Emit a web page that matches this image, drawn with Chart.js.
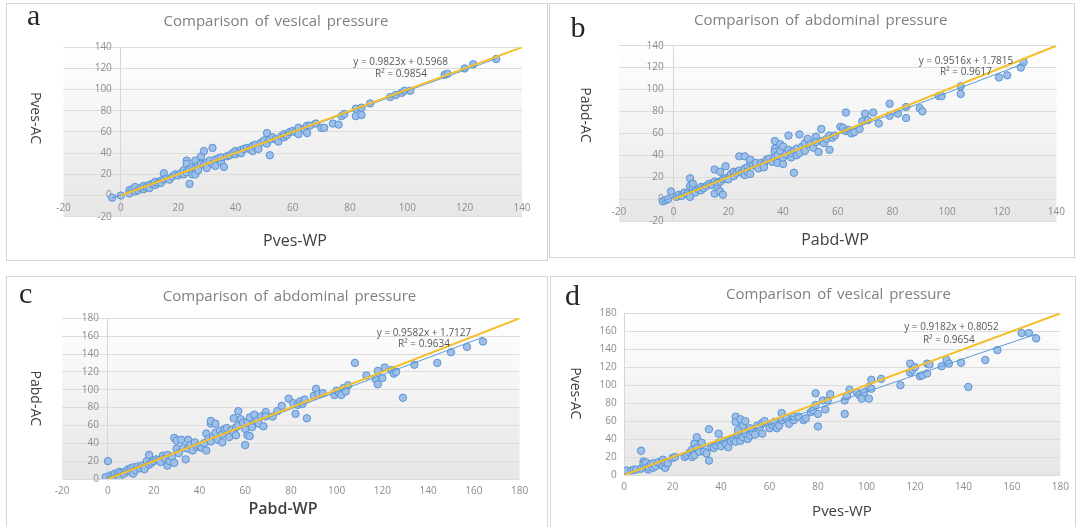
<!DOCTYPE html>
<html>
<head>
<meta charset="utf-8">
<script src="https://cdn.jsdelivr.net/npm/chart.js@4/dist/chart.umd.min.js"></script>
<style>
html,body{margin:0;padding:0;background:#fff;width:1077px;height:527px;overflow:hidden;}
.panel{position:absolute;border:1px solid #d6d6d6;background:#fff;box-sizing:content-box;}
.panel canvas{position:absolute;left:0;top:0;}
</style>
</head>
<body>
<div class="panel" style="left:6px;top:3px;width:540px;height:256px"><canvas id="ca"></canvas></div>
<div class="panel" style="left:549px;top:3px;width:524px;height:253px"><canvas id="cb"></canvas></div>
<div class="panel" style="left:6px;top:276px;width:540px;height:252px"><canvas id="cc"></canvas></div>
<div class="panel" style="left:550px;top:276px;width:524px;height:252px"><canvas id="cd"></canvas></div>
<script>
// ---------- DATA ----------
const letters = ['a', 'b', 'c', 'd'];
const titles = ['Comparison of vesical pressure', 'Comparison of abdominal pressure',
                'Comparison of abdominal pressure', 'Comparison of vesical pressure'];
const xTitles = ['Pves-WP', 'Pabd-WP', 'Pabd-WP', 'Pves-WP'];
const yTitles = ['Pves-AC', 'Pabd-AC', 'Pabd-AC', 'Pves-AC'];

const xTicksA = [-20, 0, 20, 40, 60, 80, 100, 120, 140];
const yTicksA = [-20, 0, 20, 40, 60, 80, 100, 120, 140];
const xTicksB = [-20, 0, 20, 40, 60, 80, 100, 120, 140];
const yTicksB = [-20, 0, 20, 40, 60, 80, 100, 120, 140];
const xTicksC = [-20, 0, 20, 40, 60, 80, 100, 120, 140, 160, 180];
const yTicksC = [0, 20, 40, 60, 80, 100, 120, 140, 160, 180];
const xTicksD = [0, 20, 40, 60, 80, 100, 120, 140, 160, 180];
const yTicksD = [0, 20, 40, 60, 80, 100, 120, 140, 160, 180];

// slope, intercept, R²
const fitA = [0.9823, 0.5968, 0.9854];
const fitB = [0.9516, 1.7815, 0.9617];
const fitC = [0.9582, 1.7127, 0.9634];
const fitD = [0.9182, 0.8052, 0.9654];

// [WP, AC]
const pointsA = [[-3,-2],[0,0],[3,5],[3,2],[4,6],[5,4],[5,8],[6,5],[7,7],[8,6],[8,9],[9,8],[10,10],[10,7],[11,11],[12,10],[12,13],[13,12],[14,14],[14,12],[15,21],[15,15],[16,16],[17,15],[18,18],[19,20],[20,19],[21,21],[22,20],[22,24],[23,33],[23,30],[23,22],[24,11],[24,25],[25,27],[25,20],[26,20],[26,33],[26,26],[27,28],[27,24],[28,30],[28,37],[29,42],[29,29],[30,31],[30,26],[31,33],[32,45],[32,30],[33,34],[33,28],[34,35],[35,32],[35,36],[36,27],[37,37],[38,38],[39,40],[40,39],[40,42],[41,41],[42,43],[42,40],[43,44],[44,45],[45,44],[46,47],[46,42],[47,46],[47,48],[48,44],[49,50],[50,52],[51,59],[51,49],[52,38],[52,53],[53,55],[54,53],[55,51],[56,56],[57,55],[57,58],[58,57],[59,60],[60,61],[61,60],[62,64],[62,58],[64,63],[65,59],[65,66],[66,66],[68,68],[70,64],[71,64],[74,68],[76,67],[77,75],[78,77],[82,82],[82,75],[84,83],[84,76],[87,87],[94,93],[96,95],[98,97],[99,99],[101,99],[113,114],[114,115],[120,120],[123,124],[131,129]];

const pointsB = [[-4,-2],[-3,-1],[-2,0],[-1,7],[1,2],[2,3],[2,4],[3,3],[4,6],[5,5],[6,19],[6,2],[6,12],[7,10],[7,14],[8,8],[8,6],[9,9],[10,8],[10,11],[11,10],[12,12],[13,14],[14,13],[15,27],[15,5],[15,16],[16,11],[16,15],[17,7],[17,16],[17,25],[18,4],[18,18],[19,30],[19,19],[20,20],[20,18],[21,23],[22,21],[22,25],[23,24],[24,39],[24,26],[25,24],[26,39],[26,22],[26,28],[27,29],[27,25],[28,23],[28,33],[28,36],[29,31],[30,30],[30,33],[31,28],[32,33],[33,32],[33,29],[34,36],[35,37],[36,34],[37,53],[37,46],[37,43],[37,38],[38,33],[38,40],[39,50],[39,44],[40,32],[40,48],[40,38],[41,41],[42,58],[42,45],[43,38],[43,42],[44,24],[44,44],[45,40],[45,46],[46,59],[46,42],[47,48],[48,44],[48,51],[49,55],[50,50],[51,47],[52,57],[52,52],[53,43],[54,64],[54,53],[55,51],[56,55],[57,45],[57,58],[58,56],[59,58],[61,66],[62,65],[63,79],[63,62],[64,63],[65,60],[66,61],[68,64],[69,71],[70,78],[71,72],[73,79],[75,69],[79,87],[79,76],[82,78],[85,84],[85,74],[90,83],[91,80],[97,94],[98,94],[105,103],[105,96],[119,111],[122,113],[127,120],[128,125]];

const pointsC = [[-1,2],[0,20],[1,4],[2,3],[3,6],[4,5],[5,2],[5,8],[6,7],[7,6],[8,9],[9,11],[10,8],[10,12],[11,6],[11,13],[12,10],[13,14],[14,12],[15,15],[16,11],[17,20],[18,27],[18,16],[19,18],[20,20],[21,22],[22,21],[23,19],[24,26],[25,23],[26,15],[26,27],[27,20],[28,25],[29,18],[29,46],[30,43],[30,34],[31,29],[32,44],[33,35],[34,22],[35,44],[35,34],[36,38],[37,32],[38,41],[39,36],[40,37],[41,35],[42,40],[43,32],[43,51],[44,45],[45,62],[45,65],[45,42],[46,48],[47,62],[47,52],[48,44],[49,54],[50,50],[50,41],[51,56],[52,57],[53,47],[54,55],[55,68],[55,52],[56,58],[56,49],[57,76],[57,60],[58,67],[59,63],[60,38],[60,56],[61,49],[61,64],[62,48],[62,69],[63,60],[63,58],[64,72],[65,65],[66,62],[67,70],[68,59],[69,75],[69,70],[72,70],[74,76],[76,82],[79,90],[81,85],[82,73],[83,83],[84,87],[85,84],[86,89],[87,68],[90,93],[91,101],[92,95],[94,96],[99,94],[100,99],[101,97],[102,94],[103,102],[104,98],[105,105],[108,130],[113,116],[117,112],[118,121],[118,106],[120,113],[121,125],[124,122],[125,118],[126,120],[129,91],[134,128],[144,130],[150,142],[157,148],[164,154]];

const pointsD = [[1,5],[3,5],[4,6],[5,6],[7,27],[7,7],[8,15],[8,12],[9,10],[9,14],[10,6],[10,9],[11,12],[12,8],[12,13],[13,10],[14,14],[15,12],[16,17],[16,10],[17,8],[17,14],[18,13],[20,19],[21,20],[25,20],[26,22],[27,25],[28,20],[28,28],[29,35],[29,22],[30,42],[30,30],[31,26],[32,36],[33,26],[34,24],[35,51],[35,16],[36,31],[37,30],[38,33],[39,46],[39,36],[40,32],[41,38],[42,34],[43,31],[44,38],[45,40],[46,65],[46,59],[46,37],[47,45],[47,50],[48,62],[48,38],[49,55],[49,42],[50,60],[50,46],[51,40],[52,52],[52,44],[53,48],[54,45],[55,55],[56,53],[57,46],[57,58],[58,60],[60,52],[61,56],[62,59],[63,52],[64,55],[65,69],[65,61],[67,63],[68,57],[70,61],[70,65],[72,65],[74,61],[75,63],[77,70],[78,72],[79,91],[79,78],[80,54],[80,68],[82,83],[83,73],[84,83],[85,90],[91,68],[91,83],[92,88],[93,95],[96,92],[97,89],[98,85],[99,92],[101,98],[101,85],[102,96],[102,106],[106,107],[114,100],[118,124],[118,114],[119,117],[120,120],[122,110],[123,111],[125,113],[125,124],[126,123],[131,121],[133,128],[134,124],[139,125],[142,98],[149,128],[154,139],[164,158],[167,158],[170,152]];

// ---------- RENDERING ----------
Chart.defaults.font.family = '"Open Sans", "Liberation Sans", sans-serif';

const plotBg = {
  id: 'plotBg',
  beforeDraw(chart) {
    const {ctx, chartArea: a} = chart;
    const g = ctx.createLinearGradient(0, a.top, 0, a.bottom);
    g.addColorStop(0, '#ffffff');
    g.addColorStop(1, '#e6e6e6');
    ctx.save();
    ctx.fillStyle = g;
    ctx.fillRect(a.left, a.top, a.right - a.left, a.bottom - a.top);
    ctx.restore();
  }
};

const panelText = {
  id: 'panelText',
  afterDraw(chart, args, opts) {
    const ctx = chart.ctx;
    (opts.items || []).forEach(it => {
      ctx.save();
      ctx.font = it.font;
      ctx.fillStyle = it.color;
      ctx.textAlign = it.align || 'center';
      ctx.textBaseline = it.baseline || 'middle';
      if (it.wordSpacing && 'wordSpacing' in ctx) ctx.wordSpacing = it.wordSpacing;
      ctx.translate(it.x, it.y);
      if (it.rotate) ctx.rotate(it.rotate);
      ctx.fillText(it.text, 0, 0);
      ctx.restore();
    });
  }
};

const panels = [
  {id: 'ca', w: 540, h: 256, pad: {left: 56.5, right: 25, top: 43.3, bottom: 43.3},
   pts: pointsA, xt: xTicksA, yt: yTicksA, fit: fitA, idx: 0, gap: 9, xPad: 7,
   xTitleFont: '16px "Open Sans"',
   pos: {letter: [20, 21], title: [269, 17.7], yTitle: [27.8, 114], xTitle: [288, 237.7], eq: [393.6, 57.7], r2: [394, 70]}},
  {id: 'cb', w: 524, h: 253, pad: {left: 69, right: 17.6, top: 41.7, bottom: 36},
   pts: pointsB, xt: xTicksB, yt: yTicksB, fit: fitB, idx: 1, gap: 10, xPad: 7,
   xTitleFont: '16px "Open Sans"',
   pos: {letter: [20.4, 32.7], title: [270.7, 16.7], yTitle: [35, 111], xTitle: [285, 236], eq: [416, 56.7], r2: [416, 67.7]}},
  {id: 'cc', w: 540, h: 252, pad: {left: 55.2, right: 27.4, top: 41.3, bottom: 50},
   pts: pointsC, xt: xTicksC, yt: yTicksC, fit: fitC, idx: 2, gap: 9, xPad: 6,
   xTitleFont: '600 16px "Open Sans"',
   pos: {letter: [12, 26.3], title: [282.5, 19.7], yTitle: [27.8, 121.3], xTitle: [276, 232.3], eq: [417, 55.7], r2: [417, 67]}},
  {id: 'cd', w: 524, h: 252, pad: {left: 73.1, right: 7.3, top: 36.3, bottom: 54},
   pts: pointsD, xt: xTicksD, yt: yTicksD, fit: fitD, idx: 3, gap: 7.6, xPad: 6,
   xTitleFont: '15px "Open Sans"',
   pos: {letter: [14, 28], title: [287.5, 18], yTitle: [24, 116.3], xTitle: [291, 234.7], eq: [400.5, 50.3], r2: [397.8, 63]}}
];

panels.forEach(p => {
  const cv = document.getElementById(p.id);
  cv.width = p.w; cv.height = p.h;
  cv.style.width = p.w + 'px'; cv.style.height = p.h + 'px';

  const xMin = p.xt[0], xMax = p.xt[p.xt.length - 1];
  const yMin = p.yt[0], yMax = p.yt[p.yt.length - 1];
  const areaW = p.w - p.pad.left - p.pad.right;
  const gapUnits = p.gap * (xMax - xMin) / areaW;
  const xs = p.pts.map(d => d[0]);
  const fxMin = Math.min(...xs), fxMax = Math.max(...xs);
  const [m, b, r2] = p.fit;
  const refMax = Math.min(xMax, yMax);

  new Chart(cv, {
    type: 'scatter',
    data: {
      datasets: [
        {label: 'y = x', data: [{x: 0, y: 0}, {x: refMax, y: refMax}], showLine: true,
         borderColor: '#f4bf2a', borderWidth: 2, pointRadius: 0, fill: false},
        {label: 'Linear trend', data: [{x: fxMin, y: m * fxMin + b}, {x: fxMax, y: m * fxMax + b}], showLine: true,
         borderColor: '#5b9bd5', borderWidth: 1, pointRadius: 0, fill: false},
        {label: titles[p.idx], data: p.pts.map(d => ({x: d[0], y: d[1]})),
         pointRadius: 3.7, pointBackgroundColor: '#9dbfe8', pointBorderColor: '#5b93d4', pointBorderWidth: 1}
      ]
    },
    options: {
      responsive: false, animation: false, events: [],
      layout: {padding: p.pad},
      plugins: {
        legend: {display: false}, tooltip: {enabled: false}, title: {display: false},
        panelText: {items: [
          {text: letters[p.idx], x: p.pos.letter[0], y: p.pos.letter[1], font: '30px "Liberation Serif"', color: '#262626', align: 'left', baseline: 'alphabetic'},
          {text: titles[p.idx], x: p.pos.title[0], y: p.pos.title[1], font: '15px "Open Sans"', color: '#7f7f7f', wordSpacing: '2px'},
          {text: yTitles[p.idx], x: p.pos.yTitle[0], y: p.pos.yTitle[1], font: '14px "Open Sans"', color: '#404040', rotate: Math.PI / 2},
          {text: xTitles[p.idx], x: p.pos.xTitle[0], y: p.pos.xTitle[1], font: p.xTitleFont, color: '#404040'},
          {text: 'y = ' + m.toFixed(4) + 'x + ' + b.toFixed(4), x: p.pos.eq[0], y: p.pos.eq[1], font: '10px "Open Sans"', color: '#595959'},
          {text: 'R\u00B2 = ' + r2.toFixed(4), x: p.pos.r2[0], y: p.pos.r2[1], font: '10px "Open Sans"', color: '#595959'}
        ]}
      },
      scales: {
        x: {
          type: 'linear', min: xMin, max: xMax, position: {y: 0},
          grid: {color: c => (c.tick && c.tick.value === 0) ? '#d6d6d6' : 'rgba(0,0,0,0)', drawTicks: false, lineWidth: 1},
          border: {display: false},
          ticks: {stepSize: p.xt[1] - p.xt[0], autoSkip: false, maxRotation: 0, padding: p.xPad,
                  font: {size: 10}, color: '#8c8c8c'}
        },
        y: {
          type: 'linear', min: yMin, max: yMax, position: {x: -gapUnits},
          grid: {color: '#dcdcdc', drawTicks: false, lineWidth: 1},
          border: {display: false},
          ticks: {stepSize: p.yt[1] - p.yt[0], autoSkip: false, padding: 0,
                  font: {size: 10}, color: '#8c8c8c'}
        }
      }
    },
    plugins: [plotBg, panelText]
  });
});
</script>
</body>
</html>
